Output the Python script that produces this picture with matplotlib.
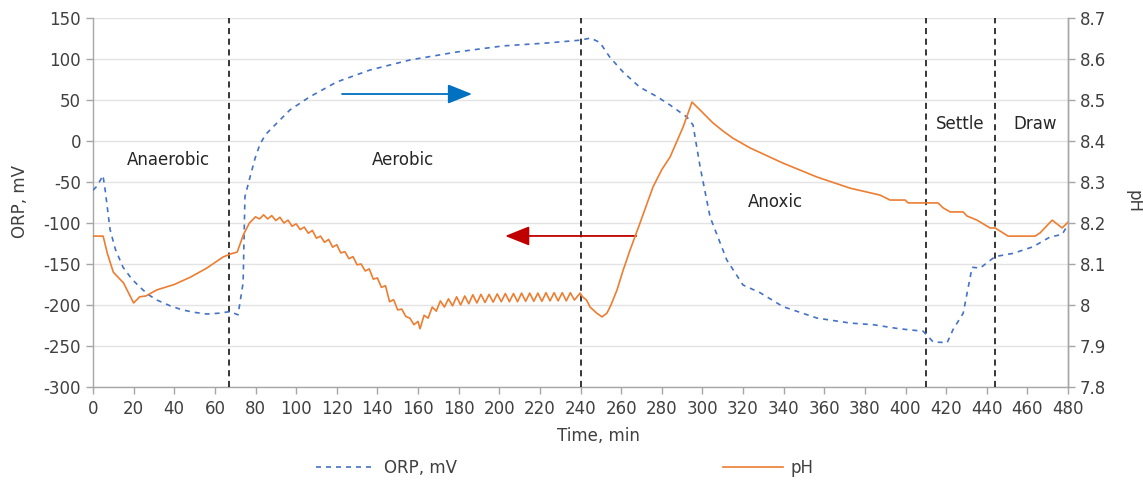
import matplotlib
matplotlib.use("Agg")
import matplotlib.pyplot as plt
from matplotlib.ticker import FuncFormatter
from matplotlib.lines import Line2D

# ---------------- data ----------------
orp_time = [0, 2, 4.9, 6, 8.4, 11, 14.8, 19, 23, 27, 31.5, 38, 44, 50, 56, 62, 67.5, 71.4,
            73.9, 74.8, 77.3, 79.8, 82.2, 85, 88.6, 97, 106.8, 120, 136.4, 156, 179, 202, 223.5, 240,
            245, 249.6, 254.5, 261, 269, 277.7, 284, 292.5, 295.4, 298.9, 303.8, 312, 320,
            328.4, 339.7, 356.5, 372.7, 384, 397, 408.7, 413.6, 420.5, 423.4, 428.4, 432.8,
            436.7, 444.1, 453, 462.8, 471.2, 477.1, 480]
orp_val = [-60, -55, -42, -60, -108, -132, -154, -168, -178, -187, -194, -201, -206, -209, -211,
           -210, -208, -212, -173, -68, -44, -21, -4, 8, 17, 38, 54, 72, 86.6, 98.8, 108.5, 116, 119.5,
           123, 125.6, 120, 102, 84, 66, 54, 44, 29, 19.5, -31.7, -92.7, -145, -175.6, -185,
           -202, -216, -222, -224, -229, -232, -245, -246, -230, -210, -154, -155, -141, -137,
           -129, -117, -114, -102]

ph_time = [0, 5, 7, 10, 15, 20, 23, 26, 31.5, 40, 48, 56, 64, 68, 71, 74, 77,
           80, 82, 84, 86, 88, 90, 92, 94, 96, 98, 100, 102, 104, 106, 108, 110, 112, 114,
           116, 118, 120, 122, 124, 126, 128, 130, 132, 134, 136, 138, 140, 142, 144, 146,
           148, 150, 152, 154, 156, 158, 160, 161, 163, 165, 167, 169, 171, 173, 175, 177,
           179, 181, 183, 185, 187, 189, 191, 193, 195, 197, 199, 201, 203, 205, 207, 209,
           211, 213, 215, 217, 219, 221, 223, 225, 227, 229, 231, 233, 235, 237, 239.8,
           241, 243, 244.7, 248, 250.6, 253, 255, 258, 261, 264.4, 269.3, 275.7, 280, 284.1,
           290.5, 294.9, 300, 305, 310, 315, 323.5, 339.7, 356.5, 372.7, 387.5, 392.4,
           399.8, 401.3, 416, 418.5, 422, 428.4, 430.3, 435.2, 441.6, 444.1, 450.5, 463.8,
           466.3, 472.2, 477.1, 480]
ph_val = [8.168, 8.168, 8.127, 8.08, 8.054, 8.005, 8.02, 8.022, 8.037, 8.05, 8.068, 8.09,
          8.117, 8.125, 8.129, 8.171, 8.2,
          8.215, 8.210, 8.220, 8.210, 8.218, 8.206, 8.214, 8.200, 8.207, 8.192, 8.198, 8.184,
          8.190, 8.175, 8.182, 8.163, 8.168, 8.153, 8.160, 8.141, 8.147, 8.127, 8.130, 8.113,
          8.118, 8.098, 8.100, 8.083, 8.088, 8.063, 8.066, 8.043, 8.047, 8.008, 8.013, 7.988,
          7.990, 7.972, 7.968, 7.952, 7.960, 7.942, 7.975, 7.968, 7.995, 7.985, 8.010, 7.995,
          8.015, 7.998, 8.020, 8.000, 8.022, 8.003, 8.025, 8.005, 8.026, 8.006, 8.026, 8.007,
          8.027, 8.008, 8.028, 8.008, 8.028, 8.008, 8.029, 8.009, 8.029, 8.009, 8.029, 8.009,
          8.030, 8.010, 8.030, 8.010, 8.030, 8.010, 8.030, 8.012, 8.029,
          8.020, 8.012, 7.995, 7.980, 7.971, 7.980, 8.000, 8.037, 8.085, 8.134, 8.2, 8.288,
          8.33, 8.361, 8.434, 8.495, 8.47, 8.445, 8.425, 8.407, 8.383, 8.346, 8.312, 8.285,
          8.268, 8.256, 8.256, 8.249, 8.249, 8.237, 8.227, 8.227, 8.217, 8.207,
          8.188, 8.188, 8.168, 8.168, 8.176, 8.207, 8.188, 8.202]

phase_bounds = [67, 240, 410, 444]
phase_labels = ["Anaerobic", "Aerobic", "Anoxic", "Settle", "Draw"]
phase_label_x = [37, 152.6, 335.8, 427, 463.8]
phase_label_y = [-23, -23, -74, 20.7, 20.7]

x_ticks = list(range(0, 481, 20))
orp_ticks = list(range(-300, 151, 50))
ph_ticks = [7.8, 7.9, 8.0, 8.1, 8.2, 8.3, 8.4, 8.5, 8.6, 8.7]

blue_arrow = (122.6, 186.6, 57.3)   # from x, to x, at ORP
red_arrow = (267.4, 202.9, -115.8)

# ---------------- styling ----------------
plt.rcParams['font.family'] = ['DejaVu Sans']
plt.rcParams['axes.unicode_minus'] = False
FS = 12
TXT = '#404040'
SP = '#a6a6a6'

fig = plt.figure(figsize=(11.43, 4.86), dpi=100)
ax = fig.add_axes([93/1143, 1 - 387/486, (1068 - 93)/1143, (387 - 18)/486])
ax2 = ax.twinx()

ax.set_xlim(0, 480)
ax.set_ylim(-300, 150)
ax2.set_ylim(7.8, 8.7)

ax.set_xticks(x_ticks)
ax.set_yticks(orp_ticks)
ax2.set_yticks(ph_ticks)
ax2.yaxis.set_major_formatter(FuncFormatter(lambda v, p: f"{v:g}" if abs(v - 8) > 1e-9 else "8"))

ax.grid(axis='y', color='#e3e3e3', linewidth=1.0)
ax.set_axisbelow(True)

for a in (ax, ax2):
    a.spines['top'].set_visible(False)
    for s in ('left', 'right', 'bottom'):
        a.spines[s].set_color(SP)
        a.spines[s].set_linewidth(1.0)
    a.tick_params(axis='both', colors=SP, labelcolor=TXT, labelsize=FS, length=5, width=1.0)
ax.tick_params(axis='x', pad=4)
ax2.spines['left'].set_visible(False)
ax2.spines['bottom'].set_visible(False)

# phase lines
for b in phase_bounds:
    ax.axvline(b, color='black', linestyle=(0, (4, 3)), linewidth=1.1, zorder=3)

# series
ax.plot(orp_time, orp_val, color='#4472C4', linestyle=(0, (3, 3)), linewidth=1.2, zorder=4)
ax2.plot(ph_time, ph_val, color='#ED7D31', linewidth=1.2, zorder=4)

# arrows
ax.annotate('', xy=(blue_arrow[1], blue_arrow[2]), xytext=(blue_arrow[0], blue_arrow[2]),
            arrowprops=dict(arrowstyle='-|>,head_length=0.75,head_width=0.3', color='#0070C0',
                            lw=1.3, shrinkA=0, shrinkB=0, mutation_scale=20), zorder=5)
ax.annotate('', xy=(red_arrow[1], red_arrow[2]), xytext=(red_arrow[0], red_arrow[2]),
            arrowprops=dict(arrowstyle='-|>,head_length=0.75,head_width=0.3', color='#C00000',
                            lw=1.3, shrinkA=0, shrinkB=0, mutation_scale=20), zorder=5)

for lbl, lx, ly in zip(phase_labels, phase_label_x, phase_label_y):
    ax.text(lx, ly, lbl, ha='center', va='center', fontsize=FS, color='#262626', zorder=6)

fig.text(20/1143, 1 - 202/486, 'ORP, mV', rotation=90, ha='center', va='center', fontsize=FS, color=TXT)
fig.text(1133/1143, 1 - 202/486, 'pH', rotation=-90, ha='center', va='center', fontsize=FS, color=TXT)
fig.text(598/1143, 1 - 436/486, 'Time, min', ha='center', va='center', fontsize=FS, color=TXT)

handles = [Line2D([], [], color='#4472C4', linestyle=(0, (3, 3)), linewidth=1.2),
           Line2D([], [], color='#ED7D31', linewidth=1.2)]
fig.legend(handles, ['ORP, mV', 'pH'], loc='center', bbox_to_anchor=(565/1143, 1 - 468/486),
           ncol=2, frameon=False, fontsize=FS, handlelength=3.6, handletextpad=0.45,
           columnspacing=16.0, labelcolor=TXT)

fig.savefig('out.png', dpi=100)
